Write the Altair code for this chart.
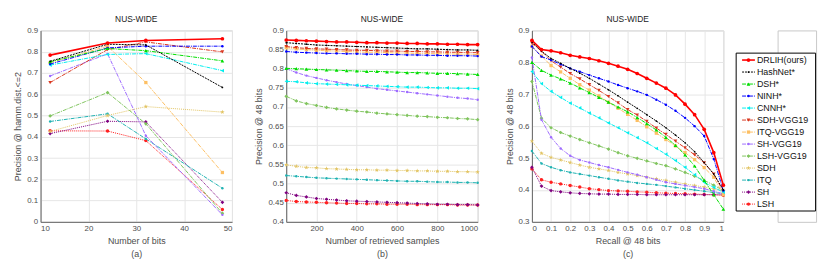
import altair as alt
import pandas as pd

STAR = ("M0,-1L0.235,-0.324L0.951,-0.309L0.38,0.124L0.588,0.809L0,0.4L-0.588,0.809"
        "L-0.38,0.124L-0.951,-0.309L-0.235,-0.324Z")

methods = ["DRLIH(ours)", "HashNet*", "DSH*", "NINH*", "CNNH*", "SDH-VGG19", "ITQ-VGG19",
           "SH-VGG19", "LSH-VGG19", "SDH", "ITQ", "SH", "LSH"]
colors = ["#ff0000", "#000000", "#00dd00", "#0000ff", "#00eeee", "#d9361e", "#fdbf63",
          "#9e6cff", "#80c45e", "#e2c463", "#20b2b2", "#7f007f", "#ff2020"]
shapes = ["circle", "circle", "triangle-up", "circle", "triangle-left", "triangle-down", "square",
          "circle", "diamond", STAR, "circle", "diamond", "circle"]
sizes = [14, 3, 14, 6, 14, 14, 11, 6, 14, 22, 6, 14, 12]
dashes = [None, [2, 1], [4, 1, 1, 1], [4, 1, 1, 1], [4, 1, 1, 1], [4, 1, 1, 1], [4, 1, 1, 1],
          [4, 1, 1, 1], [4, 1, 1, 1], [1, 1], [4, 1, 1, 1], [1, 1], [1, 1]]
widths = [1.6, 1, 1, 1, 1, 1, 1, 1, 1, 1, 1, 1, 1]

bits = [12, 24, 32, 48]
a_drlih = [0.784, 0.841, 0.853, 0.861]
a_hashnet = [0.755, 0.835, 0.832, 0.632]
a_dsh = [0.753, 0.815, 0.805, 0.757]
a_ninh = [0.742, 0.818, 0.826, 0.826]
a_cnnh = [0.737, 0.787, 0.791, 0.711]
a_sdh_vgg = [0.655, 0.810, 0.846, 0.799]
a_itq_vgg = [0.748, 0.826, 0.655, 0.232]
a_sh_vgg = [0.686, 0.790, 0.405, 0.033]
a_lsh_vgg = [0.498, 0.608, 0.461, 0.040]
a_sdh = [0.425, 0.500, 0.542, 0.516]
a_itq = [0.472, 0.508, 0.390, 0.158]
a_sh = [0.415, 0.473, 0.470, 0.092]
a_lsh = [0.428, 0.427, 0.382, 0.058]

samples = [50, 100, 150, 200, 250, 300, 350, 400, 450, 500,
           550, 600, 650, 700, 750, 800, 850, 900, 950, 1000]
b_drlih = [0.875, 0.874, 0.873, 0.872, 0.871, 0.870, 0.870, 0.869, 0.868, 0.868,
           0.867, 0.867, 0.866, 0.866, 0.865, 0.865, 0.864, 0.864, 0.863, 0.863]
b_hashnet = [0.868, 0.866, 0.864, 0.862, 0.861, 0.860, 0.859, 0.858, 0.857, 0.856,
             0.855, 0.854, 0.853, 0.852, 0.852, 0.851, 0.850, 0.849, 0.849, 0.848]
b_dsh = [0.801, 0.800, 0.799, 0.798, 0.797, 0.796, 0.795, 0.794, 0.793, 0.793,
         0.792, 0.791, 0.790, 0.790, 0.789, 0.788, 0.788, 0.787, 0.786, 0.785]
b_ninh = [0.845, 0.843, 0.842, 0.841, 0.840, 0.840, 0.839, 0.839, 0.838, 0.838,
          0.837, 0.837, 0.836, 0.836, 0.835, 0.835, 0.834, 0.834, 0.834, 0.833]
b_cnnh = [0.767, 0.766, 0.763, 0.761, 0.760, 0.759, 0.758, 0.757, 0.756, 0.755,
          0.754, 0.753, 0.752, 0.752, 0.751, 0.750, 0.750, 0.749, 0.749, 0.748]
b_sdh_vgg = [0.858, 0.855, 0.853, 0.852, 0.851, 0.850, 0.849, 0.848, 0.848, 0.847,
             0.846, 0.846, 0.845, 0.845, 0.844, 0.844, 0.843, 0.843, 0.842, 0.842]
b_itq_vgg = [0.855, 0.852, 0.850, 0.848, 0.847, 0.846, 0.845, 0.844, 0.843, 0.843,
             0.842, 0.841, 0.841, 0.840, 0.840, 0.839, 0.839, 0.838, 0.838, 0.837]
b_sh_vgg = [0.800, 0.790, 0.782, 0.776, 0.770, 0.765, 0.760, 0.756, 0.752, 0.748,
            0.745, 0.742, 0.739, 0.736, 0.733, 0.730, 0.727, 0.724, 0.722, 0.719]
b_lsh_vgg = [0.728, 0.716, 0.709, 0.704, 0.699, 0.695, 0.692, 0.689, 0.687, 0.684,
             0.682, 0.680, 0.678, 0.676, 0.675, 0.673, 0.672, 0.670, 0.669, 0.667]
b_sdh = [0.549, 0.545, 0.542, 0.541, 0.539, 0.538, 0.537, 0.536, 0.536, 0.535,
         0.535, 0.534, 0.534, 0.533, 0.533, 0.532, 0.532, 0.531, 0.531, 0.530]
b_itq = [0.521, 0.519, 0.517, 0.515, 0.514, 0.513, 0.512, 0.511, 0.510, 0.509,
         0.508, 0.507, 0.506, 0.506, 0.505, 0.504, 0.504, 0.503, 0.503, 0.502]
b_sh = [0.476, 0.469, 0.465, 0.461, 0.459, 0.457, 0.455, 0.454, 0.453, 0.452,
        0.451, 0.450, 0.449, 0.448, 0.447, 0.446, 0.446, 0.445, 0.445, 0.444]
b_lsh = [0.456, 0.453, 0.452, 0.451, 0.450, 0.449, 0.448, 0.448, 0.447, 0.447,
         0.446, 0.446, 0.446, 0.445, 0.445, 0.445, 0.445, 0.444, 0.444, 0.444]

recall = [0.0, 0.05, 0.1, 0.15, 0.2, 0.25, 0.3, 0.35, 0.4, 0.45, 0.5,
          0.55, 0.6, 0.65, 0.7, 0.75, 0.8, 0.85, 0.9, 0.95, 1.0]
c_drlih = [0.869, 0.840, 0.836, 0.830, 0.822, 0.817, 0.812, 0.805, 0.797, 0.788, 0.778,
           0.765, 0.750, 0.735, 0.719, 0.698, 0.669, 0.636, 0.590, 0.517, 0.415]
c_hashnet = [0.864, 0.835, 0.812, 0.797, 0.781, 0.766, 0.750, 0.732, 0.714, 0.695, 0.675,
             0.656, 0.636, 0.616, 0.595, 0.572, 0.548, 0.520, 0.486, 0.450, 0.400]
c_dsh = [0.800, 0.775, 0.760, 0.748, 0.735, 0.720, 0.705, 0.690, 0.675, 0.660, 0.645,
         0.627, 0.608, 0.588, 0.565, 0.540, 0.510, 0.475, 0.430, 0.385, 0.340]
c_ninh = [0.850, 0.818, 0.807, 0.794, 0.781, 0.771, 0.760, 0.750, 0.740, 0.729, 0.719,
          0.709, 0.698, 0.683, 0.667, 0.648, 0.626, 0.600, 0.569, 0.497, 0.398]
c_cnnh = [0.771, 0.733, 0.709, 0.690, 0.672, 0.657, 0.641, 0.626, 0.610, 0.595, 0.579,
          0.564, 0.548, 0.530, 0.512, 0.492, 0.471, 0.448, 0.424, 0.408, 0.393]
c_sdh_vgg = [0.860, 0.835, 0.805, 0.785, 0.765, 0.748, 0.730, 0.712, 0.693, 0.673, 0.652,
             0.635, 0.615, 0.594, 0.574, 0.553, 0.532, 0.510, 0.485, 0.450, 0.395]
c_itq_vgg = [0.850, 0.820, 0.790, 0.770, 0.750, 0.730, 0.713, 0.695, 0.675, 0.656, 0.637,
             0.618, 0.598, 0.578, 0.558, 0.538, 0.517, 0.495, 0.470, 0.440, 0.385]
c_sh_vgg = [0.815, 0.620, 0.565, 0.530, 0.507, 0.494, 0.486, 0.478, 0.471, 0.463, 0.455,
            0.448, 0.440, 0.432, 0.424, 0.419, 0.414, 0.409, 0.404, 0.396, 0.388]
c_lsh_vgg = [0.740, 0.625, 0.595, 0.580, 0.569, 0.558, 0.548, 0.538, 0.528, 0.517, 0.507,
             0.499, 0.491, 0.483, 0.476, 0.466, 0.455, 0.443, 0.430, 0.415, 0.398]
c_sdh = [0.553, 0.515, 0.502, 0.494, 0.486, 0.478, 0.471, 0.466, 0.461, 0.455, 0.450,
         0.445, 0.440, 0.435, 0.430, 0.424, 0.419, 0.414, 0.409, 0.403, 0.398]
c_itq = [0.522, 0.483, 0.471, 0.462, 0.455, 0.450, 0.445, 0.440, 0.435, 0.430, 0.426,
         0.422, 0.419, 0.416, 0.412, 0.408, 0.404, 0.400, 0.396, 0.392, 0.388]
c_sh = [0.471, 0.412, 0.398, 0.394, 0.391, 0.389, 0.388, 0.387, 0.387, 0.386, 0.386,
        0.386, 0.385, 0.385, 0.385, 0.385, 0.385, 0.385, 0.385, 0.385, 0.385]
c_lsh = [0.466, 0.432, 0.424, 0.419, 0.414, 0.409, 0.404, 0.401, 0.398, 0.397, 0.396,
         0.394, 0.393, 0.391, 0.390, 0.389, 0.388, 0.387, 0.386, 0.385, 0.383]

a_series = [a_drlih, a_hashnet, a_dsh, a_ninh, a_cnnh, a_sdh_vgg, a_itq_vgg,
            a_sh_vgg, a_lsh_vgg, a_sdh, a_itq, a_sh, a_lsh]
b_series = [b_drlih, b_hashnet, b_dsh, b_ninh, b_cnnh, b_sdh_vgg, b_itq_vgg,
            b_sh_vgg, b_lsh_vgg, b_sdh, b_itq, b_sh, b_lsh]
c_series = [c_drlih, c_hashnet, c_dsh, c_ninh, c_cnnh, c_sdh_vgg, c_itq_vgg,
            c_sh_vgg, c_lsh_vgg, c_sdh, c_itq, c_sh, c_lsh]

W = 194
H = 194


def line_mark(i):
    kw = dict(color=colors[i], strokeWidth=widths[i])
    if dashes[i] is not None:
        kw["strokeDash"] = dashes[i]
    return kw


def panel(xs, series, xdom, xvals, xfmt, xtitle, ydom, yvals, ytitle):
    xenc = alt.X("x:Q", scale=alt.Scale(domain=xdom, nice=False, zero=False),
                 axis=alt.Axis(values=xvals, format=xfmt, title=xtitle))
    yenc = alt.Y("y:Q", scale=alt.Scale(domain=ydom, nice=False, zero=False),
                 axis=alt.Axis(values=yvals, format="~g", title=ytitle))
    layers = []
    for i in reversed(range(len(methods))):
        df = pd.DataFrame({"x": xs, "y": series[i]})
        base = alt.Chart(df).encode(x=xenc, y=yenc)
        layers.append(base.mark_line(**line_mark(i)))
        layers.append(base.mark_point(filled=True, opacity=1, color=colors[i],
                                      shape=shapes[i], size=sizes[i]))
    return alt.layer(*layers).properties(width=W, height=H, title="NUS-WIDE")


pa = panel(bits, a_series, [10, 50], [10, 20, 30, 40, 50], "d", ["Number of bits", "(a)"],
           [0, 0.9], [0, 0.1, 0.2, 0.3, 0.4, 0.5, 0.6, 0.7, 0.8, 0.9], "Precision @ hamm.dist.<=2")
pb = panel(samples, b_series, [50, 1000], [200, 400, 600, 800, 1000], "d",
           ["Number of retrieved samples", "(b)"],
           [0.4, 0.9], [0.4, 0.45, 0.5, 0.55, 0.6, 0.65, 0.7, 0.75, 0.8, 0.85, 0.9], "Precision @ 48 bits")
pc = panel(recall, c_series, [0, 1], [0, 0.1, 0.2, 0.3, 0.4, 0.5, 0.6, 0.7, 0.8, 0.9, 1], "~g",
           ["Recall @ 48 bits", "(c)"],
           [0.3, 0.9], [0.3, 0.4, 0.5, 0.6, 0.7, 0.8, 0.9], "Precision @ 48 bits")

# ---------- legend panel (drawn leftwards from its origin so it sits close to panel c)
ly = alt.Y("idx:Q", scale=alt.Scale(domain=[0, 12], range=[30, 176]), axis=None)
box = alt.Chart(pd.DataFrame({"b": [0]})).mark_rect(
    fill="white", stroke="black", strokeWidth=1).encode(
    x=alt.value(-42), x2=alt.value(38.5), y=alt.value(23), y2=alt.value(183))
leg_layers = [box]
for i, m in enumerate(methods):
    ldf = pd.DataFrame({"idx": [i], "method": [m]})
    lb = alt.Chart(ldf).encode(y=ly)
    leg_layers.append(lb.mark_rule(**line_mark(i)).encode(x=alt.value(-36), x2=alt.value(-23)))
    leg_layers.append(lb.mark_point(filled=True, opacity=1, color=colors[i], shape=shapes[i],
                                    size=sizes[i]).encode(x=alt.value(-29.5)))
    leg_layers.append(lb.mark_text(align="left", baseline="middle", fontSize=9,
                                   font="Liberation Sans", color="#111111")
                      .encode(x=alt.value(-21), text="method:N"))
legend = alt.layer(*leg_layers).properties(width=39, height=H)

chart = alt.hconcat(pa, pb, pc, legend, spacing=55, bounds="flush").configure_axis(
    labelFont="Liberation Sans", labelFontSize=8, labelColor="#4d4d4d", labelPadding=3,
    titleFont="Liberation Sans", titleFontSize=9, titleColor="#4d4d4d", titleFontWeight="normal",
    titlePadding=4, titleLineHeight=13,
    gridColor="#e6e6e6", domainColor="#666666", ticks=False,
).configure_title(
    font="Liberation Sans", fontSize=8.5, fontWeight="normal", color="#222222", offset=3
).configure_view(stroke="#c8c8c8")

chart.save("out.html", embed_options={"renderer": "svg", "actions": False})
